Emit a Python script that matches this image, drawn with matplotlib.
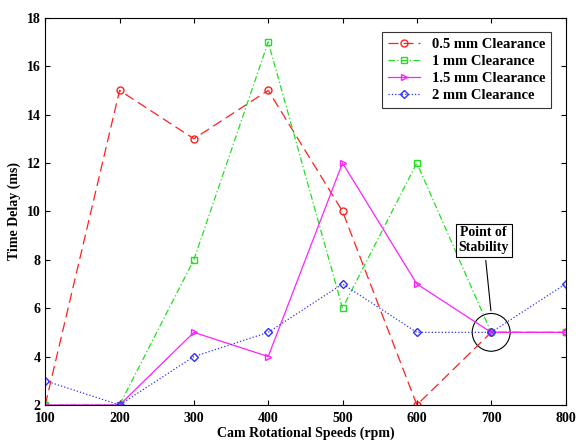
import matplotlib
matplotlib.use("Agg")
import matplotlib.pyplot as plt
from matplotlib.patches import Ellipse

speeds = [100, 200, 300, 400, 500, 600, 700, 800]
c05 = [2, 15, 13, 15, 10, 2, 5, 5]
c1 = [2, 2, 8, 17, 6, 12, 5, 5]
c15 = [2, 2, 5, 4, 12, 7, 5, 5]
c2 = [3, 2, 4, 5, 7, 5, 5, 7]

plt.rcParams['font.family'] = ['Liberation Serif', 'DejaVu Serif']
fig = plt.figure(figsize=(5.8, 4.45), dpi=100)
ax = fig.add_axes([0.078, 0.09, 0.897, 0.87])
ax.plot(speeds, c05, color='#ff2020', ls=(0, (8, 4)), lw=0.9, marker='o', mfc='none', ms=5, label='0.5 mm Clearance')
ax.plot(speeds, c1, color='#20e020', ls=(0, (5, 2, 1, 2)), lw=0.9, marker='s', mfc='none', ms=5, label='1 mm Clearance')
ax.plot(speeds, c15, color='#ff20ff', ls='-', lw=0.9, marker='>', mfc='none', ms=5, label='1.5 mm Clearance')
ax.plot(speeds, c2, color='#3030ff', ls=':', lw=0.9, marker='D', mfc='none', ms=4, label='2 mm Clearance')
ax.set_xlim(100, 800)
ax.set_ylim(2, 18)
ax.set_xticks(speeds)
ax.set_yticks(range(2, 19, 2))
ax.tick_params(direction='in', labelsize=10, top=True, right=True)
ax.tick_params(axis='x', pad=5)
for t in ax.get_xticklabels() + ax.get_yticklabels():
    t.set_fontweight('bold')
ax.set_xlabel('Cam Rotational Speeds (rpm)', fontsize=10, fontweight='bold', labelpad=1)
ax.set_ylabel('Time Delay (ms)', fontsize=10, fontweight='bold')
leg = ax.legend(loc='upper right', prop={'weight': 'bold', 'size': 10.5}, fancybox=False, edgecolor='black',
                handlelength=2.2, borderaxespad=1.0, labelspacing=0.25)
leg.get_frame().set_linewidth(0.8)
ax.add_patch(Ellipse((700, 5), 51, 1.56, fill=False, color='black', lw=0.8))
ax.annotate('Point of\nStability', xy=(700, 5.78), xytext=(690, 8.8), ha='center', va='center',
            fontsize=10, fontweight='bold',
            bbox=dict(boxstyle='square,pad=0.2', fc='white', ec='black', lw=0.8),
            arrowprops=dict(arrowstyle='-', color='black', lw=0.8))
fig.savefig('out.png')
